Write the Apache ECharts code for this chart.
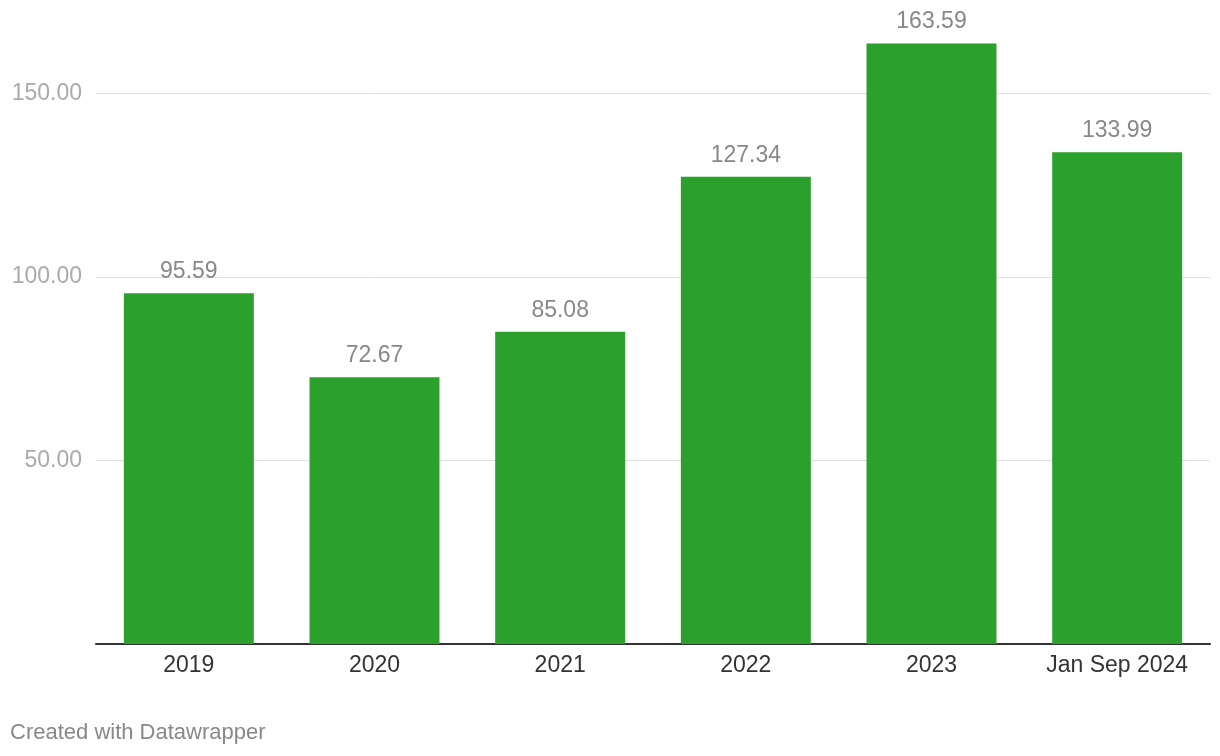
<!DOCTYPE html>
<html><head><meta charset="utf-8">
<script src="https://cdn.jsdelivr.net/npm/echarts@6/dist/echarts.min.js"></script>
<style>html,body{margin:0;padding:0;background:#fff;}#c{width:1220px;height:756px;}</style>
</head><body><div id="c"></div>
<script>
var categories = ["2019", "2020", "2021", "2022", "2023", "Jan Sep 2024"];
var values = [95.59, 72.67, 85.08, 127.34, 163.59, 133.99];
var yTicks = [50, 100, 150];
var footer = "Created with Datawrapper";

var chart = echarts.init(document.getElementById('c'));
var F = '"Liberation Sans", Arial, Helvetica, sans-serif';
chart.setOption({
  animation: false,
  textStyle: {fontFamily: F},
  graphic: [{type: 'text', left: 10, top: 722, style: {text: footer, fill: '#888', font: '22px ' + F}}],
  grid: {left: 96, right: 10, top: 93.5, bottom: 112, containLabel: false},
  xAxis: {
    type: 'category', data: categories,
    axisLine: {lineStyle: {color: '#333', width: 2}},
    axisTick: {show: false},
    axisLabel: {color: '#333', fontSize: 23, margin: 10, fontFamily: F}
  },
  yAxis: {
    type: 'value', min: 0, max: 150, interval: 50,
    axisLine: {show: false}, axisTick: {show: false},
    splitLine: {lineStyle: {color: '#e0e0e0', width: 1}},
    axisLabel: {
      color: '#aaa', fontSize: 23, margin: 14, fontFamily: F, padding: [3, 0, 0, 0],
      formatter: function (v) { return yTicks.indexOf(v) >= 0 ? v.toFixed(2) : ''; }
    }
  },
  series: [{
    type: 'bar', data: values, barWidth: '70%', clip: false,
    itemStyle: {color: '#2ca02c'},
    label: {show: true, position: 'top', distance: 10, color: '#888', fontSize: 23, fontFamily: F,
      formatter: function (p) { return p.value.toFixed(2); }}
  }]
});
</script></body></html>
